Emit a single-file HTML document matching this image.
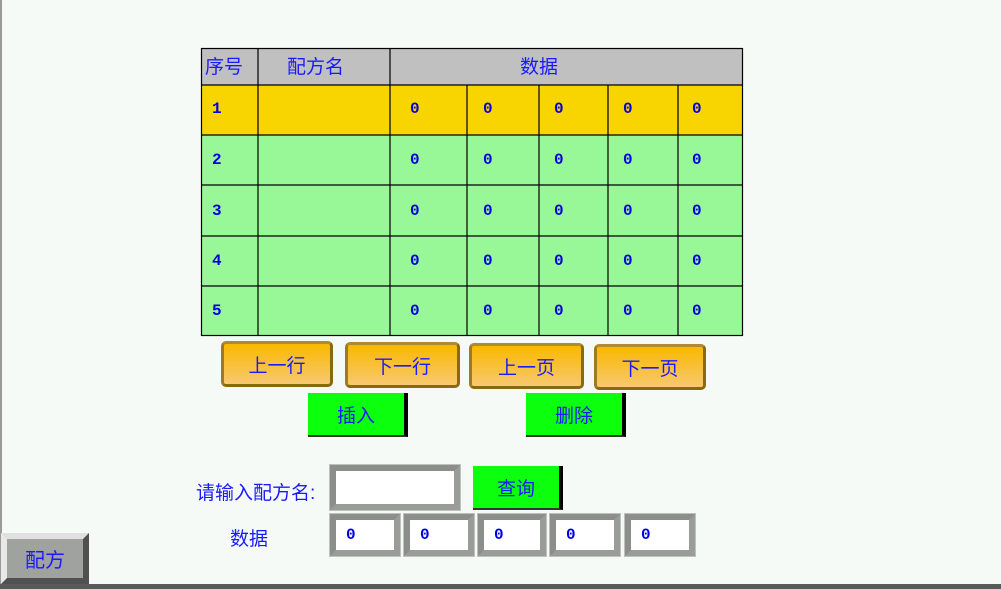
<!DOCTYPE html>
<html><head><meta charset="utf-8"><style>
body{margin:0;width:1001px;height:589px;background:#f6faf7;position:relative;overflow:hidden;font-family:"Liberation Sans","WenQuanYi Zen Hei","Noto Sans CJK SC",sans-serif;color:#1a1aff}
.a{position:absolute;box-sizing:border-box}
.c{display:flex;align-items:center;justify-content:center;font-size:19px}
.n{font-family:"Liberation Mono",monospace;font-weight:bold;font-size:16px;color:#0000e0}
.ob{background:linear-gradient(#f9b800,#f8c870);border:3px solid #8a6a10;border-radius:5px;border-top-color:#b08a30;border-left-color:#a07a20}
.gb{background:#0cff0c;border-right:4px solid #000;border-bottom:2px solid #333}
.in{background:#fff;border:6px solid #9a9c9a;border-top-color:#8c8e8c;border-left-color:#8c8e8c;outline:1px solid #c0c0c0}
</style></head><body>
<div class="a" style="left:0;top:0;width:2px;height:589px;background:#9a9a9a"></div>
<div class="a" style="left:0;top:584px;width:1001px;height:5px;background:#5a5a5a"></div>

<svg class="a" style="left:0;top:0" width="1001" height="589">
<rect x="201" y="48" width="542" height="37" fill="#c0c0c0"/>
<rect x="201" y="85" width="542" height="50" fill="#f8d400"/>
<rect x="201" y="135" width="542" height="201" fill="#98f898"/>
<g stroke="#000" stroke-width="1.2" fill="none">
<rect x="201.5" y="48.5" width="541" height="287"/>
<line x1="201" y1="85" x2="743" y2="85"/><line x1="201" y1="135" x2="743" y2="135"/>
<line x1="201" y1="185" x2="743" y2="185"/><line x1="201" y1="236" x2="743" y2="236"/>
<line x1="201" y1="286" x2="743" y2="286"/>
<line x1="258" y1="48" x2="258" y2="336"/><line x1="390" y1="48" x2="390" y2="336"/>
<line x1="467" y1="85" x2="467" y2="336"/><line x1="539" y1="85" x2="539" y2="336"/>
<line x1="608" y1="85" x2="608" y2="336"/><line x1="678" y1="85" x2="678" y2="336"/>
</g>
<g font-family="Liberation Sans,WenQuanYi Zen Hei,sans-serif" font-size="19" fill="#1a1aff">
<text x="205" y="73">序号</text><text x="287" y="73">配方名</text><text x="520" y="73">数据</text>
</g>
<g font-family="Liberation Mono,monospace" font-weight="bold" font-size="16" fill="#0000e0">
<text x="212" y="113">1</text><text x="212" y="164">2</text><text x="212" y="215">3</text><text x="212" y="265">4</text><text x="212" y="315">5</text>
<g id="r"><text x="410" y="113">0</text><text x="483" y="113">0</text><text x="554" y="113">0</text><text x="623" y="113">0</text><text x="692" y="113">0</text></g>
<use href="#r" y="51"/><use href="#r" y="102"/><use href="#r" y="152"/><use href="#r" y="202"/>
</g>
</svg>

<div class="a c ob" style="left:221px;top:341px;width:112px;height:46px">上一行</div>
<div class="a c ob" style="left:345px;top:342px;width:115px;height:46px">下一行</div>
<div class="a c ob" style="left:469px;top:343px;width:115px;height:46px">上一页</div>
<div class="a c ob" style="left:594px;top:344px;width:112px;height:46px">下一页</div>
<div class="a c gb" style="left:308px;top:393px;width:100px;height:44px">插入</div>
<div class="a c gb" style="left:526px;top:393px;width:100px;height:44px">删除</div>

<div class="a" style="left:196px;top:478px;font-size:19px">请输入配方名:</div>
<div class="a in" style="left:330px;top:465px;width:130px;height:45px"></div>
<div class="a c gb" style="left:473px;top:466px;width:90px;height:44px">查询</div>
<div class="a" style="left:230px;top:524px;font-size:19px">数据</div>
<div class="a in n" style="left:330px;top:514px;width:70px;height:42px;padding:6px 0 0 10px">0</div>
<div class="a in n" style="left:404px;top:514px;width:70px;height:42px;padding:6px 0 0 10px">0</div>
<div class="a in n" style="left:478px;top:514px;width:68px;height:42px;padding:6px 0 0 10px">0</div>
<div class="a in n" style="left:550px;top:514px;width:70px;height:42px;padding:6px 0 0 10px">0</div>
<div class="a in n" style="left:625px;top:514px;width:70px;height:42px;padding:6px 0 0 10px">0</div>

<div class="a c" style="left:1px;top:533px;width:88px;height:51px;background:#a0a2a0;border:6px solid #505050;border-top-color:#e0e0e0;border-left-color:#e8e8e8;font-size:20px">配方</div>
</body></html>
